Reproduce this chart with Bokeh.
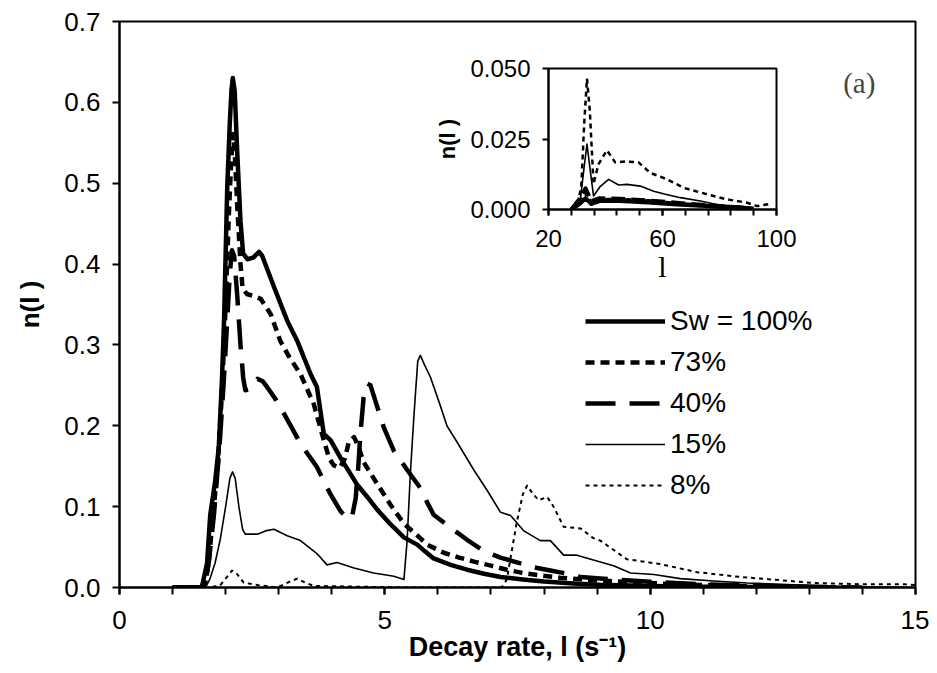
from bokeh.plotting import figure
from bokeh.models import (Range1d, FixedTicker, PrintfTickFormatter, Legend,
                          LegendItem, Label)
from bokeh.embed import file_html
from bokeh.resources import INLINE

# ---------------- data ----------------
labels = ["Sw = 100%", "73%", "40%", "15%", "8%"]

x100 = [1.0, 1.55, 1.65, 1.71, 1.8, 1.87, 1.93, 1.97, 2.03, 2.08, 2.11, 2.135, 2.17,
        2.22, 2.28, 2.33, 2.41, 2.52, 2.63, 2.69, 2.91, 3.16, 3.35, 3.6, 3.72, 3.85,
        3.98, 4.16, 4.48, 4.67, 4.86, 5.11, 5.36, 5.61, 5.75, 5.92, 6.24, 6.55, 6.87,
        7.18, 7.6, 8.0, 8.56, 9.05, 10.0, 11.0, 12.0, 13.0]
y100 = [0.0, 0.0, 0.03, 0.09, 0.13, 0.173, 0.256, 0.33, 0.495, 0.577, 0.615, 0.63, 0.615,
        0.536, 0.453, 0.413, 0.406, 0.408, 0.415, 0.41, 0.372, 0.33, 0.305, 0.264, 0.248, 0.19,
        0.182, 0.161, 0.127, 0.112, 0.096, 0.078, 0.062, 0.053, 0.045, 0.036, 0.028, 0.022, 0.017,
        0.013, 0.010, 0.0075, 0.005, 0.0035, 0.002, 0.001, 0.0005, 0.0]

x73 = [1.0, 1.6, 1.68, 1.75, 1.85, 1.93, 2.0, 2.06, 2.1, 2.135, 2.17, 2.22, 2.28, 2.32,
       2.4, 2.55, 2.66, 2.85, 3.03, 3.2, 3.41, 3.66, 3.85, 3.95, 4.04, 4.15, 4.25, 4.32,
       4.42, 4.5, 4.6, 4.79, 5.11, 5.36, 5.6, 5.8, 6.11, 6.4, 6.68, 7.0, 7.3, 7.6, 7.93,
       8.3, 8.75, 9.5, 10.5, 11.5, 12.5, 13.5]
y73 = [0.0, 0.0, 0.03, 0.08, 0.15, 0.24, 0.35, 0.46, 0.52, 0.561, 0.54, 0.47, 0.40, 0.37,
       0.363, 0.36, 0.357, 0.338, 0.305, 0.285, 0.264, 0.227, 0.182, 0.16, 0.151, 0.148, 0.16, 0.18,
       0.186, 0.175, 0.155, 0.135, 0.102, 0.079, 0.065, 0.053, 0.043, 0.037, 0.032, 0.027, 0.022, 0.018, 0.015,
       0.012, 0.010, 0.007, 0.004, 0.002, 0.001, 0.0]

x40 = [1.0, 1.6, 1.68, 1.78, 1.88, 1.96, 2.03, 2.08, 2.12, 2.16, 2.22, 2.28, 2.33, 2.37,
       2.45, 2.6, 2.7, 2.78, 2.95, 3.1, 3.41, 3.72, 3.97, 4.16, 4.29, 4.38, 4.45, 4.5, 4.54,
       4.6, 4.67, 4.73, 4.85, 4.98, 5.17, 5.48, 5.67, 5.8, 5.92, 6.24, 6.55, 6.87, 7.18,
       7.49, 7.81, 8.12, 8.44, 8.69, 9.06, 10.0, 11.0, 12.0, 13.0, 14.0]
y40 = [0.0, 0.0, 0.03, 0.09, 0.17, 0.25, 0.33, 0.39, 0.417, 0.41, 0.36, 0.30, 0.26, 0.244,
       0.245, 0.258, 0.255, 0.248, 0.232, 0.215, 0.178, 0.149, 0.116, 0.095, 0.085, 0.087, 0.11, 0.15, 0.19,
       0.235, 0.252, 0.25, 0.225, 0.198, 0.169, 0.14, 0.123, 0.105, 0.09, 0.074, 0.059, 0.045, 0.037,
       0.031, 0.025, 0.021, 0.017, 0.013, 0.011, 0.007, 0.004, 0.002, 0.001, 0.0]

x15 = [1.0, 1.62, 1.7, 1.8, 1.9, 2.0, 2.08, 2.13, 2.18, 2.25, 2.32, 2.37, 2.6, 2.75, 2.91,
       3.16, 3.41, 3.72, 3.91, 4.1, 4.42, 4.79, 5.17, 5.36, 5.42, 5.48, 5.55, 5.62, 5.67,
       5.75, 5.86, 6.05, 6.17, 6.36, 6.68, 6.93, 7.18, 7.37, 7.62, 7.93, 8.12, 8.37, 8.62,
       8.93, 9.31, 9.63, 10.07, 10.57, 11.2, 11.83, 12.46, 13.09, 14.0, 15.0]
y15 = [0.0, 0.0, 0.01, 0.03, 0.06, 0.10, 0.135, 0.143, 0.135, 0.10, 0.072, 0.066, 0.066, 0.07, 0.072,
       0.064, 0.058, 0.042, 0.028, 0.031, 0.024, 0.018, 0.014, 0.010, 0.058, 0.14, 0.214, 0.28, 0.287,
       0.275, 0.26, 0.224, 0.20, 0.18, 0.145, 0.12, 0.093, 0.089, 0.07, 0.058, 0.058, 0.04, 0.04,
       0.034, 0.027, 0.018, 0.016, 0.011, 0.008, 0.0055, 0.004, 0.0025, 0.001, 0.0]

x8 = [1.0, 1.7, 1.9, 2.05, 2.12, 2.2, 2.34, 2.6, 2.97, 3.2, 3.35, 3.5, 3.66, 4.5, 5.5,
      7.2, 7.3, 7.37, 7.49, 7.6, 7.68, 7.8, 7.9, 8.06, 8.18, 8.37, 8.69, 8.93, 9.06,
      9.56, 10.19, 10.88, 11.7, 12.46, 13.09, 14.0, 14.8, 15.0]
y8 = [0.0, 0.0, 0.003, 0.015, 0.021, 0.018, 0.006, 0.003, 0.0, 0.007, 0.011, 0.006, 0.002, 0.001, 0.0,
      0.0, 0.01, 0.037, 0.082, 0.115, 0.126, 0.115, 0.108, 0.112, 0.10, 0.075, 0.073, 0.061, 0.058,
      0.035, 0.029, 0.019, 0.013, 0.009, 0.0055, 0.004, 0.004, 0.003]

# inset (tail of the distributions)
ix_heavy = [28, 31, 33, 35, 38, 45, 55, 65, 75, 85, 92]
iy100 = [0.0, 0.002, 0.004, 0.002, 0.003, 0.003, 0.0025, 0.0018, 0.0012, 0.0006, 0.0002]
iy73 = [0.0, 0.003, 0.006, 0.002, 0.0035, 0.0035, 0.003, 0.002, 0.0014, 0.0008, 0.0003]
iy40 = [0.0, 0.004, 0.0075, 0.003, 0.004, 0.0038, 0.0032, 0.0024, 0.0016, 0.0009, 0.0003]
ix15 = [29, 31, 32.5, 33.5, 34.5, 35.8, 38, 41.1, 44.6, 47.5, 52.2, 56.9, 61, 66.3, 73.3,
        80.3, 87.3, 92]
iy15 = [0.0, 0.002, 0.015, 0.0232, 0.015, 0.0048, 0.008, 0.0107, 0.0087, 0.0089, 0.0083,
        0.0065, 0.0054, 0.0042, 0.003, 0.0015, 0.0012, 0.0006]
ix8 = [28, 30, 31.5, 32.5, 33.5, 34.5, 35.8, 37.5, 40.5, 43.4, 47, 51.6, 55.7, 61.6, 67.4,
       75.6, 82.6, 89.7, 93.2, 97.9]
iy8 = [0.0, 0.001, 0.008, 0.03, 0.0464, 0.035, 0.009, 0.016, 0.021, 0.0167, 0.017, 0.0167,
       0.013, 0.0107, 0.0077, 0.0054, 0.0036, 0.0024, 0.0012, 0.002]

x_major = [0, 5, 10, 15]
x_minor = list(range(0, 16))
y_major = [0.0, 0.1, 0.2, 0.3, 0.4, 0.5, 0.6, 0.7]
ix_major = [20, 60, 100]
ix_minor = [20, 28, 36, 44, 52, 60, 68, 76, 84, 92, 100]
iy_major = [0.0, 0.025, 0.05]

FONT = "Liberation Sans"
SERIF = "Liberation Serif"

styles = [
    dict(line_width=4.5, line_dash="solid"),
    dict(line_width=4.5, line_dash="9 6"),
    dict(line_width=4.5, line_dash="30 14"),
    dict(line_width=1.6, line_dash="solid"),
    dict(line_width=2.0, line_dash="4 4"),
]


def style_axis(ax, size):
    ax.axis_line_color = "black"
    ax.axis_line_width = 2
    ax.major_tick_line_color = "black"
    ax.major_tick_line_width = 2
    ax.minor_tick_line_color = "black"
    ax.minor_tick_line_width = 2
    ax.major_tick_in = 0
    ax.major_tick_out = 7
    ax.minor_tick_in = 0
    ax.minor_tick_out = 7
    ax.major_label_text_font = FONT
    ax.major_label_text_font_size = size
    ax.major_label_text_color = "black"
    ax.axis_label_text_color = "black"


# ---------------- main figure ----------------
p = figure(width=929, height=672, x_range=Range1d(0, 15), y_range=Range1d(0, 0.7),
           output_backend="svg", toolbar_location=None,
           min_border_left=119, min_border_right=14, min_border_top=21, min_border_bottom=85)
p.grid.visible = False
p.outline_line_color = "black"
p.outline_line_width = 2
p.background_fill_color = "white"
p.border_fill_color = "white"

xa = p.xaxis[0]
xa.ticker = FixedTicker(ticks=x_major, minor_ticks=x_minor)
style_axis(xa, "26px")
xa.major_label_standoff = 16
xa.axis_label = "Decay rate, l (s\u207b\u00b9)"
xa.axis_label_text_font = FONT
xa.axis_label_text_font_style = "bold"
xa.axis_label_text_font_size = "27px"
xa.axis_label_standoff = 0

ya = p.yaxis[0]
ya.ticker = FixedTicker(ticks=y_major)
ya.formatter = PrintfTickFormatter(format="%.1f")
style_axis(ya, "26px")
ya.major_label_standoff = 12
ya.minor_tick_line_color = None
ya.axis_label = "n(l )"
ya.axis_label_text_font = FONT
ya.axis_label_text_font_style = "bold"
ya.axis_label_text_font_size = "26px"
ya.axis_label_standoff = 16

data_main = [(x100, y100), (x73, y73), (x40, y40), (x15, y15), (x8, y8)]
renderers = []
for (xs, ys), st in zip(data_main, styles):
    r = p.line(xs, ys, line_color="black", line_join="round", **st)
    renderers.append(r)

legend = Legend(items=[LegendItem(label=lab, renderers=[r]) for lab, r in zip(labels, renderers)],
                location=(466, 85), padding=0, margin=0, spacing=7,
                glyph_width=80, glyph_height=34, label_standoff=5,
                label_text_font=FONT, label_text_font_size="28px",
                label_text_baseline="middle", label_text_color="black",
                border_line_color=None, background_fill_alpha=0)
p.add_layout(legend)

p.add_layout(Label(x=13.94, y=0.624, text="(a)", text_font=SERIF,
                   text_font_size="29px", text_baseline="middle", text_align="center"))

# ---------------- inset ----------------
inset = figure(width=375, height=249, x_range=Range1d(20, 100), y_range=Range1d(0, 0.05),
               output_backend="svg", toolbar_location=None,
               min_border_left=123, min_border_right=24, min_border_top=28, min_border_bottom=80,
               styles={"position": "absolute", "left": "425px", "top": "40px"})
inset.grid.visible = False
inset.outline_line_color = "black"
inset.outline_line_width = 2
inset.background_fill_alpha = 0
inset.border_fill_alpha = 0

ixa = inset.xaxis[0]
ixa.ticker = FixedTicker(ticks=ix_major, minor_ticks=ix_minor)
style_axis(ixa, "24px")
ixa.major_tick_out = 6
ixa.minor_tick_out = 6
ixa.major_label_standoff = 14
ixa.axis_label = "l"
ixa.axis_label_text_font = SERIF
ixa.axis_label_text_font_style = "normal"
ixa.axis_label_text_font_size = "30px"
ixa.axis_label_standoff = 0

iya = inset.yaxis[0]
iya.ticker = FixedTicker(ticks=iy_major)
iya.formatter = PrintfTickFormatter(format="%.3f")
style_axis(iya, "24px")
iya.major_tick_out = 6
iya.minor_tick_line_color = None
iya.major_label_standoff = 12
iya.axis_label = "n(l )"
iya.axis_label_text_font = FONT
iya.axis_label_text_font_style = "bold"
iya.axis_label_text_font_size = "22px"
iya.axis_label_standoff = 7

data_inset = [(ix_heavy, iy100), (ix_heavy, iy73), (ix_heavy, iy40), (ix15, iy15), (ix8, iy8)]
inset_styles = [
    dict(line_width=4, line_dash="solid"),
    dict(line_width=4, line_dash="6 4"),
    dict(line_width=4, line_dash="14 6"),
    dict(line_width=1.6, line_dash="solid"),
    dict(line_width=2.5, line_dash="5 4"),
]
for (xs, ys), st in zip(data_inset, inset_styles):
    inset.line(xs, ys, line_color="black", line_join="round", **st)

open("out.html", "w").write(file_html([p, inset], INLINE))
